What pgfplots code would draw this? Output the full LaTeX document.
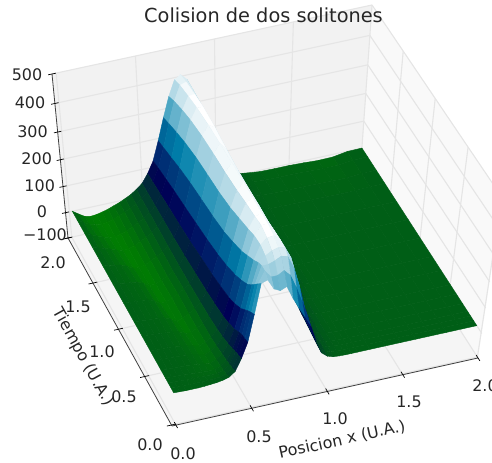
\documentclass[border=0pt]{standalone}
\usepackage{fontspec}
\setmainfont{DejaVu Sans}
\usepackage{pgfplots}
\usepackage{pgfplotstable}
\pgfplotsset{compat=1.18}
\definecolor{txt}{HTML}{262626}
% perspective camera fitted to the box corners of the reference
\newcommand\pU{((\thisrow{x}+0.026)/2.026)}
\newcommand\pV{((\thisrow{t}+0.01)/2.01)}
\newcommand\pS{((\thisrow{u}+100)/600)}
\newcommand\pW{(1+0.0054*\pU+0.05*\pV-0.092*\pS)}
\pgfplotsset{/pgfplots/table/proj/.style={
  x expr={(172+308.6*\pU-100.6*\pV-21.58*\pS)/\pW},
  y expr={463-(426-66.08*\pU-176.1*\pV-179*\pS)/\pW},
  z expr=0}}
\pgfplotstableread[row sep=\\]{
x t u\\
.02 2 0\\.06 2 -16\\.10 2 -30\\.14 2 -35\\.18 2 -33\\.22 2 -28\\.26 2 -22\\.30 2 -14\\.34 2 -6\\.38 2 4\\.42 2 15\\.46 2 30\\.50 2 48\\.54 2 80\\.58 2 122\\.62 2 192\\.66 2 270\\.70 2 340\\.74 2 393\\.78 2 405\\.82 2 385\\.86 2 325\\.90 2 255\\.94 2 175\\.98 2 110\\1.02 2 66\\1.06 2 38\\1.10 2 20\\1.14 2 9\\1.18 2 3\\1.22 2 0\\1.3 2 -5\\1.4 2 -6\\1.5 2 -6\\1.6 2 -8\\1.7 2 -11\\1.8 2 -10\\1.9 2 -1\\2 2 0\\
.02 1.9 0\\.06 1.9 -14\\.10 1.9 -27\\.14 1.9 -33\\.18 1.9 -36\\.22 1.9 -33\\.26 1.9 -27\\.30 1.9 -18\\.34 1.9 -9\\.38 1.9 2\\.42 1.9 13\\.46 1.9 28\\.50 1.9 48\\.54 1.9 82\\.58 1.9 130\\.62 1.9 200\\.66 1.9 282\\.70 1.9 355\\.74 1.9 405\\.78 1.9 412\\.82 1.9 383\\.86 1.9 318\\.90 1.9 250\\.94 1.9 172\\.98 1.9 108\\1.02 1.9 65\\1.06 1.9 37\\1.10 1.9 20\\1.14 1.9 9\\1.18 1.9 3\\1.22 1.9 0\\1.3 1.9 -3\\1.4 1.9 -4\\1.5 1.9 -4\\1.6 1.9 -6\\1.7 1.9 -8\\1.8 1.9 -7\\1.9 1.9 -1\\2 1.9 0\\
.02 1.75 0\\.06 1.75 -9\\.10 1.75 -19\\.14 1.75 -28\\.18 1.75 -36\\.22 1.75 -37\\.26 1.75 -32\\.30 1.75 -24\\.34 1.75 -13\\.38 1.75 -2\\.42 1.75 10\\.46 1.75 26\\.50 1.75 48\\.54 1.75 86\\.58 1.75 138\\.62 1.75 212\\.66 1.75 298\\.70 1.75 372\\.74 1.75 415\\.78 1.75 418\\.82 1.75 378\\.86 1.75 312\\.90 1.75 245\\.94 1.75 170\\.98 1.75 106\\1.02 1.75 63\\1.06 1.75 36\\1.10 1.75 19\\1.14 1.75 8\\1.18 1.75 3\\1.22 1.75 0\\1.3 1.75 -2\\1.4 1.75 -3\\1.5 1.75 -3\\1.6 1.75 -4\\1.7 1.75 -5\\1.8 1.75 -5\\1.9 1.75 -1\\2 1.75 0\\
.02 1.6 0\\.06 1.6 -7\\.10 1.6 -14\\.14 1.6 -22\\.18 1.6 -31\\.22 1.6 -37\\.26 1.6 -36\\.30 1.6 -29\\.34 1.6 -18\\.38 1.6 -6\\.42 1.6 8\\.46 1.6 24\\.50 1.6 48\\.54 1.6 90\\.58 1.6 147\\.62 1.6 225\\.66 1.6 312\\.70 1.6 385\\.74 1.6 424\\.78 1.6 422\\.82 1.6 372\\.86 1.6 306\\.90 1.6 240\\.94 1.6 167\\.98 1.6 104\\1.02 1.6 62\\1.06 1.6 35\\1.10 1.6 18\\1.14 1.6 8\\1.18 1.6 3\\1.22 1.6 0\\1.3 1.6 -1\\1.4 1.6 -1\\1.5 1.6 -1\\1.6 1.6 -2\\1.7 1.6 -3\\1.8 1.6 -2\\1.9 1.6 0\\2 1.6 0\\
.02 1.4 0\\.06 1.4 -4\\.10 1.4 -8\\.14 1.4 -13\\.18 1.4 -22\\.22 1.4 -35\\.26 1.4 -38\\.30 1.4 -32\\.34 1.4 -22\\.38 1.4 -10\\.42 1.4 4\\.46 1.4 20\\.50 1.4 48\\.54 1.4 94\\.58 1.4 155\\.62 1.4 238\\.66 1.4 325\\.70 1.4 395\\.74 1.4 430\\.78 1.4 418\\.82 1.4 366\\.86 1.4 300\\.90 1.4 233\\.94 1.4 162\\.98 1.4 102\\1.02 1.4 60\\1.06 1.4 33\\1.10 1.4 17\\1.14 1.4 7\\1.18 1.4 2\\1.22 1.4 0\\1.3 1.4 0\\1.4 1.4 0\\1.5 1.4 0\\1.6 1.4 0\\1.7 1.4 0\\1.8 1.4 0\\1.9 1.4 0\\2 1.4 0\\
.02 1.2 0\\.06 1.2 -3\\.10 1.2 -6\\.14 1.2 -8\\.18 1.2 -12\\.22 1.2 -22\\.26 1.2 -36\\.30 1.2 -34\\.34 1.2 -25\\.38 1.2 -14\\.42 1.2 0\\.46 1.2 18\\.50 1.2 50\\.54 1.2 100\\.58 1.2 165\\.62 1.2 247\\.66 1.2 332\\.70 1.2 400\\.74 1.2 432\\.78 1.2 408\\.82 1.2 358\\.86 1.2 296\\.90 1.2 228\\.94 1.2 158\\.98 1.2 100\\1.02 1.2 58\\1.06 1.2 31\\1.10 1.2 15\\1.14 1.2 6\\1.18 1.2 2\\1.22 1.2 0\\1.3 1.2 0\\1.4 1.2 0\\1.5 1.2 0\\1.6 1.2 0\\1.7 1.2 0\\1.8 1.2 0\\1.9 1.2 0\\2 1.2 0\\
.02 1 0\\.06 1 -2\\.10 1 -4\\.14 1 -6\\.18 1 -8\\.22 1 -16\\.26 1 -33\\.30 1 -31\\.34 1 -22\\.38 1 -10\\.42 1 3\\.46 1 18\\.50 1 55\\.54 1 110\\.58 1 175\\.62 1 255\\.66 1 338\\.70 1 402\\.74 1 432\\.78 1 400\\.82 1 352\\.86 1 292\\.90 1 225\\.94 1 155\\.98 1 100\\1.02 1 57\\1.06 1 30\\1.10 1 14\\1.14 1 5\\1.18 1 1\\1.22 1 0\\1.3 1 0\\1.4 1 0\\1.5 1 0\\1.6 1 0\\1.7 1 0\\1.8 1 0\\1.9 1 0\\2 1 0\\
.02 .8 0\\.06 .8 -1\\.10 .8 -3\\.14 .8 -4\\.18 .8 -6\\.22 .8 -10\\.26 .8 -20\\.30 .8 -33\\.34 .8 -27\\.38 .8 -14\\.42 .8 0\\.46 .8 20\\.50 .8 60\\.54 .8 118\\.58 .8 188\\.62 .8 268\\.66 .8 350\\.70 .8 408\\.74 .8 432\\.78 .8 398\\.82 .8 352\\.86 .8 290\\.90 .8 222\\.94 .8 148\\.98 .8 90\\1.02 .8 48\\1.06 .8 23\\1.10 .8 10\\1.14 .8 3\\1.18 .8 1\\1.22 .8 0\\1.3 .8 0\\1.4 .8 0\\1.5 .8 0\\1.6 .8 0\\1.7 .8 0\\1.8 .8 0\\1.9 .8 0\\2 .8 0\\
.02 .65 0\\.06 .65 -1\\.10 .65 -2\\.14 .65 -4\\.18 .65 -6\\.22 .65 -9\\.26 .65 -14\\.30 .65 -26\\.34 .65 -28\\.38 .65 -15\\.42 .65 -2\\.46 .65 22\\.50 .65 66\\.54 .65 128\\.58 .65 202\\.62 .65 285\\.66 .65 365\\.70 .65 415\\.74 .65 430\\.78 .65 398\\.82 .65 352\\.86 .65 285\\.90 .65 212\\.94 .65 135\\.98 .65 75\\1.02 .65 38\\1.06 .65 17\\1.10 .65 7\\1.14 .65 2\\1.18 .65 1\\1.22 .65 0\\1.3 .65 0\\1.4 .65 0\\1.5 .65 0\\1.6 .65 0\\1.7 .65 0\\1.8 .65 0\\1.9 .65 0\\2 .65 0\\
.02 .5 0\\.06 .5 -1\\.10 .5 -2\\.14 .5 -3\\.18 .5 -5\\.22 .5 -8\\.26 .5 -12\\.30 .5 -18\\.34 .5 -24\\.38 .5 -14\\.42 .5 -1\\.46 .5 28\\.50 .5 74\\.54 .5 140\\.58 .5 222\\.62 .5 305\\.66 .5 380\\.70 .5 420\\.74 .5 428\\.78 .5 395\\.82 .5 350\\.86 .5 278\\.90 .5 200\\.94 .5 120\\.98 .5 60\\1.02 .5 28\\1.06 .5 12\\1.10 .5 5\\1.14 .5 1\\1.18 .5 0\\1.22 .5 0\\1.3 .5 0\\1.4 .5 0\\1.5 .5 0\\1.6 .5 0\\1.7 .5 0\\1.8 .5 0\\1.9 .5 0\\2 .5 0\\
.02 .4 0\\.06 .4 -1\\.10 .4 -2\\.14 .4 -3\\.18 .4 -4\\.22 .4 -6\\.26 .4 -10\\.30 .4 -15\\.34 .4 -21\\.38 .4 -10\\.42 .4 4\\.46 .4 36\\.50 .4 85\\.54 .4 155\\.58 .4 240\\.62 .4 325\\.66 .4 392\\.70 .4 425\\.74 .4 425\\.78 .4 398\\.82 .4 352\\.86 .4 275\\.90 .4 192\\.94 .4 110\\.98 .4 52\\1.02 .4 24\\1.06 .4 10\\1.10 .4 4\\1.14 .4 1\\1.18 .4 0\\1.22 .4 0\\1.3 .4 0\\1.4 .4 0\\1.5 .4 0\\1.6 .4 0\\1.7 .4 0\\1.8 .4 0\\1.9 .4 0\\2 .4 0\\
.02 .3 0\\.06 .3 -1\\.10 .3 -2\\.14 .3 -3\\.18 .3 -4\\.22 .3 -6\\.26 .3 -9\\.30 .3 -13\\.34 .3 -16\\.38 .3 -6\\.42 .3 10\\.46 .3 46\\.50 .3 100\\.54 .3 175\\.58 .3 262\\.62 .3 345\\.66 .3 395\\.70 .3 415\\.74 .3 418\\.78 .3 400\\.82 .3 355\\.86 .3 275\\.90 .3 185\\.94 .3 100\\.98 .3 46\\1.02 .3 20\\1.06 .3 8\\1.10 .3 3\\1.14 .3 1\\1.18 .3 0\\1.22 .3 0\\1.3 .3 0\\1.4 .3 0\\1.5 .3 0\\1.6 .3 0\\1.7 .3 0\\1.8 .3 0\\1.9 .3 0\\2 .3 0\\
.02 .22 0\\.06 .22 -1\\.10 .22 -2\\.14 .22 -3\\.18 .22 -5\\.22 .22 -7\\.26 .22 -9\\.30 .22 -10\\.34 .22 -10\\.38 .22 -1\\.42 .22 16\\.46 .22 58\\.50 .22 118\\.54 .22 200\\.58 .22 290\\.62 .22 365\\.66 .22 385\\.70 .22 398\\.74 .22 405\\.78 .22 400\\.82 .22 358\\.86 .22 278\\.90 .22 182\\.94 .22 92\\.98 .22 40\\1.02 .22 16\\1.06 .22 6\\1.10 .22 2\\1.14 .22 1\\1.18 .22 0\\1.22 .22 0\\1.3 .22 0\\1.4 .22 0\\1.5 .22 0\\1.6 .22 0\\1.7 .22 0\\1.8 .22 0\\1.9 .22 0\\2 .22 0\\
.02 .17 0\\.06 .17 -1\\.10 .17 -2\\.14 .17 -3\\.18 .17 -4\\.22 .17 -5\\.26 .17 -6\\.30 .17 -6\\.34 .17 -5\\.38 .17 2\\.42 .17 20\\.46 .17 66\\.50 .17 128\\.54 .17 215\\.58 .17 310\\.62 .17 372\\.66 .17 372\\.70 .17 380\\.74 .17 392\\.78 .17 385\\.82 .17 340\\.86 .17 265\\.90 .17 175\\.94 .17 90\\.98 .17 36\\1.02 .17 14\\1.06 .17 5\\1.10 .17 2\\1.14 .17 0\\1.18 .17 0\\1.22 .17 0\\1.3 .17 0\\1.4 .17 0\\1.5 .17 0\\1.6 .17 0\\1.7 .17 0\\1.8 .17 0\\1.9 .17 0\\2 .17 0\\
.02 .12 0\\.06 .12 -1\\.10 .12 -2\\.14 .12 -3\\.18 .12 -3\\.22 .12 -3\\.26 .12 -3\\.30 .12 -2\\.34 .12 0\\.38 .12 7\\.42 .12 25\\.46 .12 72\\.50 .12 132\\.54 .12 228\\.58 .12 330\\.62 .12 372\\.66 .12 345\\.70 .12 345\\.74 .12 358\\.78 .12 335\\.82 .12 285\\.86 .12 225\\.90 .12 165\\.94 .12 86\\.98 .12 33\\1.02 .12 12\\1.06 .12 4\\1.10 .12 1\\1.14 .12 0\\1.18 .12 0\\1.22 .12 0\\1.3 .12 0\\1.4 .12 0\\1.5 .12 0\\1.6 .12 0\\1.7 .12 0\\1.8 .12 0\\1.9 .12 0\\2 .12 0\\
.02 .07 0\\.06 .07 -1\\.10 .07 -2\\.14 .07 -2\\.18 .07 -2\\.22 .07 -1\\.26 .07 1\\.30 .07 3\\.34 .07 7\\.38 .07 14\\.42 .07 32\\.46 .07 78\\.50 .07 137\\.54 .07 240\\.58 .07 350\\.62 .07 358\\.66 .07 320\\.70 .07 308\\.74 .07 318\\.78 .07 270\\.82 .07 228\\.86 .07 190\\.90 .07 150\\.94 .07 82\\.98 .07 30\\1.02 .07 11\\1.06 .07 3\\1.10 .07 1\\1.14 .07 0\\1.18 .07 0\\1.22 .07 0\\1.3 .07 0\\1.4 .07 0\\1.5 .07 0\\1.6 .07 0\\1.7 .07 0\\1.8 .07 0\\1.9 .07 0\\2 .07 0\\
}\solitones
\newcommand\seg[7]{\addplot3[#1] table[proj,row sep=\\]{x t u\\ #2 #3 #4\\ #5 #6 #7\\};}
\newcommand\pane[2]{\addplot3[fill=#1,draw=none] table[proj,row sep=\\]{#2};}
\tikzset{gl/.style={draw=black!10,line width=1.1bp},al/.style={draw=black!75,line width=0.8bp},tk/.style={draw=black,line width=0.7bp}}
\newcommand\lab[3]{\node[text=txt,inner sep=0pt,font=\fontsize{16}{18}\selectfont] at ({#1bp},{463bp-#2bp}) {#3};}
\begin{document}
\begin{tikzpicture}
\useasboundingbox (0,0) rectangle (492bp,463bp);
\begin{axis}[hide axis,scale only axis,width=492bp,height=463bp,
  xmin=0,xmax=492,ymin=0,ymax=463,zmin=0,zmax=1,view={0}{90},clip=false,no markers,
  colormap={ocean}{rgb=(0,.5,0) rgb=(0,0,.3333) rgb=(0,.5,.6667) rgb=(1,1,1)},
  point meta min=-40,point meta max=420]
% panes
\pane{black!5}{x t u\\ -0.026 2 -100\\ 2 2 -100\\ 2 2 500\\ -0.026 2 500\\}
\pane{black!2.5}{x t u\\ 2 -0.01 -100\\ 2 2 -100\\ 2 2 500\\ 2 -0.01 500\\}
\pane{black!3.75}{x t u\\ -0.026 -0.01 -100\\ 2 -0.01 -100\\ 2 2 -100\\ -0.026 2 -100\\}
% grid
\seg{gl}{0}{2}{-100}{0}{2}{500}\seg{gl}{0.5}{2}{-100}{0.5}{2}{500}\seg{gl}{1}{2}{-100}{1}{2}{500}\seg{gl}{1.5}{2}{-100}{1.5}{2}{500}\seg{gl}{2}{2}{-100}{2}{2}{500}
\seg{gl}{2}{0}{-100}{2}{0}{500}\seg{gl}{2}{0.5}{-100}{2}{0.5}{500}\seg{gl}{2}{1}{-100}{2}{1}{500}\seg{gl}{2}{1.5}{-100}{2}{1.5}{500}
\seg{gl}{0}{-0.01}{-100}{0}{2}{-100}\seg{gl}{0.5}{-0.01}{-100}{0.5}{2}{-100}\seg{gl}{1}{-0.01}{-100}{1}{2}{-100}\seg{gl}{1.5}{-0.01}{-100}{1.5}{2}{-100}\seg{gl}{2}{-0.01}{-100}{2}{2}{-100}
\seg{gl}{-0.026}{0}{-100}{2}{0}{-100}\seg{gl}{-0.026}{0.5}{-100}{2}{0.5}{-100}\seg{gl}{-0.026}{1}{-100}{2}{1}{-100}\seg{gl}{-0.026}{1.5}{-100}{2}{1.5}{-100}\seg{gl}{-0.026}{2}{-100}{2}{2}{-100}
\seg{gl}{-0.026}{2}{0}{2}{2}{0}\seg{gl}{-0.026}{2}{100}{2}{2}{100}\seg{gl}{-0.026}{2}{200}{2}{2}{200}\seg{gl}{-0.026}{2}{300}{2}{2}{300}\seg{gl}{-0.026}{2}{400}{2}{2}{400}\seg{gl}{-0.026}{2}{500}{2}{2}{500}
\seg{gl}{2}{-0.01}{0}{2}{2}{0}\seg{gl}{2}{-0.01}{100}{2}{2}{100}\seg{gl}{2}{-0.01}{200}{2}{2}{200}\seg{gl}{2}{-0.01}{300}{2}{2}{300}\seg{gl}{2}{-0.01}{400}{2}{2}{400}\seg{gl}{2}{-0.01}{500}{2}{2}{500}
% axis lines
\seg{al}{-0.026}{-0.01}{-100}{2}{-0.01}{-100}
\seg{al}{-0.026}{-0.01}{-100}{-0.026}{2}{-100}
\seg{al}{-0.026}{2}{-100}{-0.026}{2}{500}
% ticks
\seg{tk}{0}{-0.04}{-100}{0}{0.02}{-100}\seg{tk}{0.5}{-0.04}{-100}{0.5}{0.02}{-100}\seg{tk}{1}{-0.04}{-100}{1}{0.02}{-100}\seg{tk}{1.5}{-0.04}{-100}{1.5}{0.02}{-100}\seg{tk}{2}{-0.04}{-100}{2}{0.02}{-100}
\seg{tk}{-0.056}{0}{-100}{0.004}{0}{-100}\seg{tk}{-0.056}{0.5}{-100}{0.004}{0.5}{-100}\seg{tk}{-0.056}{1}{-100}{0.004}{1}{-100}\seg{tk}{-0.056}{1.5}{-100}{0.004}{1.5}{-100}\seg{tk}{-0.056}{2}{-100}{0.004}{2}{-100}
\seg{tk}{-0.05}{2}{-100}{-0.002}{2}{-100}\seg{tk}{-0.05}{2}{0}{-0.002}{2}{0}\seg{tk}{-0.05}{2}{100}{-0.002}{2}{100}\seg{tk}{-0.05}{2}{200}{-0.002}{2}{200}\seg{tk}{-0.05}{2}{300}{-0.002}{2}{300}\seg{tk}{-0.05}{2}{400}{-0.002}{2}{400}\seg{tk}{-0.05}{2}{500}{-0.002}{2}{500}
% surface
\addplot3[surf,shader=flat,mesh/rows=16,mesh/cols=39,z buffer=reverse x seq,point meta=\thisrow{u}] table[proj] {\solitones};
\end{axis}
\lab{27}{75}{500}\lab{30}{103}{400}\lab{32.5}{132}{300}\lab{36.7}{159}{200}\lab{39.7}{186}{100}\lab{42}{212}{0}\lab{45}{235}{−100}
\lab{53}{263}{2.0}\lab{78}{307}{1.5}\lab{102}{352}{1.0}\lab{124}{397}{0.5}\lab{150}{445}{0.0}
\lab{183}{454}{0.0}\lab{259}{437}{0.5}\lab{335}{419}{1.0}\lab{409}{402}{1.5}\lab{485}{386}{2.0}
\node[text=txt,inner sep=0pt,font=\fontsize{19.4}{21}\selectfont] at (263.5bp,448bp) {Colision de dos solitones};
\node[text=txt,inner sep=0pt,rotate=12.5,font=\fontsize{16}{18}\selectfont] at (342bp,23bp) {Posicion x (U.A.)};
\node[text=txt,inner sep=0pt,rotate=-61,font=\fontsize{16}{18}\selectfont] at (83bp,106bp) {Tiempo (U.A.)};
\end{tikzpicture}
\end{document}
